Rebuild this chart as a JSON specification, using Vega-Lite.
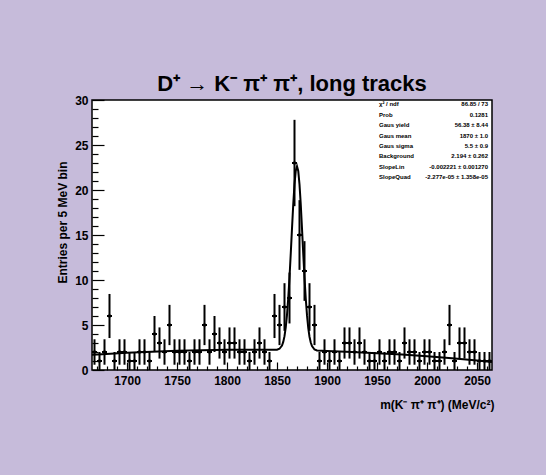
{
  "$schema": "https://vega.github.io/schema/vega-lite/v6.json",
  "width": 400,
  "height": 270,
  "autosize": "none",
  "padding": {"left": 92, "top": 100, "right": 54, "bottom": 105},
  "background": "#c6bbda",
  "title": {"text": "D⁺ → K⁻ π⁺ π⁺, long tracks", "font": "Liberation Sans", "fontSize": 22, "fontWeight": "bold", "color": "black", "anchor": "middle", "offset": -2},
  "config": {
    "view": {"fill": "white", "stroke": "black", "strokeWidth": 1.5},
    "axis": {"labelFont": "Liberation Sans", "labelFontWeight": "bold", "labelFontSize": 12, "labelColor": "black", "titleFont": "Liberation Sans", "titleFontWeight": "bold", "titleFontSize": 12, "titleColor": "black", "tickColor": "#000000", "tickWidth": 1.2, "tickOpacity": 1, "domain": false, "grid": false}
  },
  "datasets": {
    "hist": [
      {"m": 1667.5, "lo": 1665, "hi": 1670, "n": 2, "e": 1.414},
      {"m": 1672.5, "lo": 1670, "hi": 1675, "n": 1, "e": 1},
      {"m": 1677.5, "lo": 1675, "hi": 1680, "n": 2, "e": 1.414},
      {"m": 1682.5, "lo": 1680, "hi": 1685, "n": 6, "e": 2.449},
      {"m": 1687.5, "lo": 1685, "hi": 1690, "n": 1, "e": 1},
      {"m": 1692.5, "lo": 1690, "hi": 1695, "n": 2, "e": 1.414},
      {"m": 1697.5, "lo": 1695, "hi": 1700, "n": 2, "e": 1.414},
      {"m": 1702.5, "lo": 1700, "hi": 1705, "n": 1, "e": 1},
      {"m": 1707.5, "lo": 1705, "hi": 1710, "n": 1, "e": 1},
      {"m": 1712.5, "lo": 1710, "hi": 1715, "n": 2, "e": 1.414},
      {"m": 1717.5, "lo": 1715, "hi": 1720, "n": 2, "e": 1.414},
      {"m": 1722.5, "lo": 1720, "hi": 1725, "n": 1, "e": 1},
      {"m": 1727.5, "lo": 1725, "hi": 1730, "n": 4, "e": 2},
      {"m": 1732.5, "lo": 1730, "hi": 1735, "n": 3, "e": 1.732},
      {"m": 1737.5, "lo": 1735, "hi": 1740, "n": 2, "e": 1.414},
      {"m": 1742.5, "lo": 1740, "hi": 1745, "n": 5, "e": 2.236},
      {"m": 1747.5, "lo": 1745, "hi": 1750, "n": 2, "e": 1.414},
      {"m": 1752.5, "lo": 1750, "hi": 1755, "n": 2, "e": 1.414},
      {"m": 1757.5, "lo": 1755, "hi": 1760, "n": 2, "e": 1.414},
      {"m": 1762.5, "lo": 1760, "hi": 1765, "n": 1, "e": 1},
      {"m": 1767.5, "lo": 1765, "hi": 1770, "n": 2, "e": 1.414},
      {"m": 1772.5, "lo": 1770, "hi": 1775, "n": 2, "e": 1.414},
      {"m": 1777.5, "lo": 1775, "hi": 1780, "n": 5, "e": 2.236},
      {"m": 1782.5, "lo": 1780, "hi": 1785, "n": 2, "e": 1.414},
      {"m": 1787.5, "lo": 1785, "hi": 1790, "n": 4, "e": 2},
      {"m": 1792.5, "lo": 1790, "hi": 1795, "n": 3, "e": 1.732},
      {"m": 1797.5, "lo": 1795, "hi": 1800, "n": 2, "e": 1.414},
      {"m": 1802.5, "lo": 1800, "hi": 1805, "n": 3, "e": 1.732},
      {"m": 1807.5, "lo": 1805, "hi": 1810, "n": 3, "e": 1.732},
      {"m": 1812.5, "lo": 1810, "hi": 1815, "n": 2, "e": 1.414},
      {"m": 1817.5, "lo": 1815, "hi": 1820, "n": 2, "e": 1.414},
      {"m": 1822.5, "lo": 1820, "hi": 1825, "n": 1, "e": 1},
      {"m": 1827.5, "lo": 1825, "hi": 1830, "n": 2, "e": 1.414},
      {"m": 1832.5, "lo": 1830, "hi": 1835, "n": 3, "e": 1.732},
      {"m": 1837.5, "lo": 1835, "hi": 1840, "n": 2, "e": 1.414},
      {"m": 1842.5, "lo": 1840, "hi": 1845, "n": 1, "e": 1},
      {"m": 1847.5, "lo": 1845, "hi": 1850, "n": 6, "e": 2.449},
      {"m": 1852.5, "lo": 1850, "hi": 1855, "n": 5, "e": 2.236},
      {"m": 1857.5, "lo": 1855, "hi": 1860, "n": 7, "e": 2.646},
      {"m": 1862.5, "lo": 1860, "hi": 1865, "n": 8, "e": 2.828},
      {"m": 1867.5, "lo": 1865, "hi": 1870, "n": 23, "e": 4.796},
      {"m": 1872.5, "lo": 1870, "hi": 1875, "n": 15, "e": 3.873},
      {"m": 1877.5, "lo": 1875, "hi": 1880, "n": 11, "e": 3.317},
      {"m": 1882.5, "lo": 1880, "hi": 1885, "n": 7, "e": 2.646},
      {"m": 1887.5, "lo": 1885, "hi": 1890, "n": 5, "e": 2.236},
      {"m": 1892.5, "lo": 1890, "hi": 1895, "n": 1, "e": 1},
      {"m": 1897.5, "lo": 1895, "hi": 1900, "n": 2, "e": 1.414},
      {"m": 1902.5, "lo": 1900, "hi": 1905, "n": 1, "e": 1},
      {"m": 1907.5, "lo": 1905, "hi": 1910, "n": 2, "e": 1.414},
      {"m": 1912.5, "lo": 1910, "hi": 1915, "n": 1, "e": 1},
      {"m": 1917.5, "lo": 1915, "hi": 1920, "n": 3, "e": 1.732},
      {"m": 1922.5, "lo": 1920, "hi": 1925, "n": 3, "e": 1.732},
      {"m": 1927.5, "lo": 1925, "hi": 1930, "n": 2, "e": 1.414},
      {"m": 1932.5, "lo": 1930, "hi": 1935, "n": 3, "e": 1.732},
      {"m": 1937.5, "lo": 1935, "hi": 1940, "n": 2, "e": 1.414},
      {"m": 1942.5, "lo": 1940, "hi": 1945, "n": 1, "e": 1},
      {"m": 1947.5, "lo": 1945, "hi": 1950, "n": 1, "e": 1},
      {"m": 1952.5, "lo": 1950, "hi": 1955, "n": 2, "e": 1.414},
      {"m": 1957.5, "lo": 1955, "hi": 1960, "n": 1, "e": 1},
      {"m": 1962.5, "lo": 1960, "hi": 1965, "n": 2, "e": 1.414},
      {"m": 1967.5, "lo": 1965, "hi": 1970, "n": 2, "e": 1.414},
      {"m": 1972.5, "lo": 1970, "hi": 1975, "n": 1, "e": 1},
      {"m": 1977.5, "lo": 1975, "hi": 1980, "n": 3, "e": 1.732},
      {"m": 1982.5, "lo": 1980, "hi": 1985, "n": 2, "e": 1.414},
      {"m": 1987.5, "lo": 1985, "hi": 1990, "n": 2, "e": 1.414},
      {"m": 1992.5, "lo": 1990, "hi": 1995, "n": 1, "e": 1},
      {"m": 1997.5, "lo": 1995, "hi": 2000, "n": 2, "e": 1.414},
      {"m": 2002.5, "lo": 2000, "hi": 2005, "n": 2, "e": 1.414},
      {"m": 2007.5, "lo": 2005, "hi": 2010, "n": 1, "e": 1},
      {"m": 2012.5, "lo": 2010, "hi": 2015, "n": 1, "e": 1},
      {"m": 2017.5, "lo": 2015, "hi": 2020, "n": 2, "e": 1.414},
      {"m": 2022.5, "lo": 2020, "hi": 2025, "n": 5, "e": 2.236},
      {"m": 2027.5, "lo": 2025, "hi": 2030, "n": 1, "e": 1},
      {"m": 2032.5, "lo": 2030, "hi": 2035, "n": 3, "e": 1.732},
      {"m": 2037.5, "lo": 2035, "hi": 2040, "n": 3, "e": 1.732},
      {"m": 2042.5, "lo": 2040, "hi": 2045, "n": 2, "e": 1.414},
      {"m": 2047.5, "lo": 2045, "hi": 2050, "n": 2, "e": 1.414},
      {"m": 2052.5, "lo": 2050, "hi": 2055, "n": 1, "e": 1},
      {"m": 2057.5, "lo": 2055, "hi": 2060, "n": 1, "e": 1},
      {"m": 2062.5, "lo": 2060, "hi": 2065, "n": 1, "e": 1}
    ],
    "fit": [
      {"x": 1665, "f": 1.69}, {"x": 1675, "f": 1.76}, {"x": 1700, "f": 1.91}, {"x": 1725, "f": 2.04},
      {"x": 1750, "f": 2.13}, {"x": 1775, "f": 2.2}, {"x": 1800, "f": 2.24}, {"x": 1825, "f": 2.25},
      {"x": 1840, "f": 2.24}, {"x": 1850, "f": 2.26}, {"x": 1852.5, "f": 2.36}, {"x": 1855, "f": 2.72},
      {"x": 1856.25, "f": 3.12}, {"x": 1857.5, "f": 3.76}, {"x": 1858.75, "f": 4.74}, {"x": 1860, "f": 6.13},
      {"x": 1861.25, "f": 7.98}, {"x": 1862.5, "f": 10.28}, {"x": 1863.75, "f": 12.93}, {"x": 1865, "f": 15.74},
      {"x": 1866.25, "f": 18.41}, {"x": 1867.5, "f": 20.64}, {"x": 1868.75, "f": 22.13}, {"x": 1870, "f": 22.64},
      {"x": 1871.25, "f": 22.12}, {"x": 1872.5, "f": 20.63}, {"x": 1873.75, "f": 18.4}, {"x": 1875, "f": 15.71},
      {"x": 1876.25, "f": 12.9}, {"x": 1877.5, "f": 10.25}, {"x": 1878.75, "f": 7.94}, {"x": 1880, "f": 6.09},
      {"x": 1881.25, "f": 4.69}, {"x": 1882.5, "f": 3.7}, {"x": 1883.75, "f": 3.06}, {"x": 1885, "f": 2.66},
      {"x": 1887.5, "f": 2.28}, {"x": 1890, "f": 2.17}, {"x": 1900, "f": 2.11}, {"x": 1925, "f": 2.0},
      {"x": 1950, "f": 1.87}, {"x": 1975, "f": 1.71}, {"x": 2000, "f": 1.52}, {"x": 2025, "f": 1.3},
      {"x": 2050, "f": 1.06}, {"x": 2065, "f": 0.9}
    ],
    "stats": [
      {"labels": ["χ² / ndf", "Prob", "Gaus yield", "Gaus mean", "Gaus sigma", "Background", "SlopeLin", "SlopeQuad"],
       "values": ["86.85 / 73", "0.1281", "56.38 ± 8.44", "1870 ± 1.0", "5.5 ± 0.9", "2.194 ± 0.262", "-0.002221 ± 0.001270", "-2.277e-05 ± 1.358e-05"]}
    ]
  },
  "layer": [
    {
      "data": {"name": "fit"},
      "mark": {"type": "line", "color": "black", "strokeWidth": 2},
      "encoding": {
        "x": {"field": "x", "type": "quantitative", "scale": {"domain": [1665, 2065], "nice": false, "zero": false},
              "axis": {"orient": "bottom", "values": [1700,1750,1800,1850,1900,1950,2000,2050], "format": "d", "tickSize": -8, "labelPadding": 13, "title": "m(K⁻ π⁺ π⁺)  (MeV/c²)", "titleX": 402, "titleY": 34, "titleAlign": "right", "titleBaseline": "middle", "titleAnchor": "end"}},
        "y": {"field": "f", "type": "quantitative", "scale": {"domain": [0, 30], "nice": false, "zero": false},
              "axis": {"orient": "left", "values": [0,5,10,15,20,25,30], "format": "d", "tickSize": -12, "labelPadding": 16, "title": "Entries per 5 MeV bin", "titleX": -30, "titleY": 122, "titleAngle": -90, "titleAlign": "center", "titleBaseline": "middle"}}
      }
    },
    {
      "data": {"name": "hist"},
      "mark": {"type": "rule", "color": "black", "strokeWidth": 2},
      "encoding": {
        "x": {"field": "lo", "type": "quantitative",
              "axis": {"orient": "bottom", "values": [1670,1680,1690,1710,1720,1730,1740,1760,1770,1780,1790,1810,1820,1830,1840,1860,1870,1880,1890,1910,1920,1930,1940,1960,1970,1980,1990,2010,2020,2030,2040,2060], "tickSize": -4, "labels": false, "title": null}},
        "x2": {"field": "hi"},
        "y": {"field": "n", "type": "quantitative",
              "axis": {"orient": "left", "values": [1,2,3,4,6,7,8,9,11,12,13,14,16,17,18,19,21,22,23,24,26,27,28,29], "tickSize": -6, "labels": false, "title": null}}
      }
    },
    {
      "data": {"name": "hist"},
      "mark": {"type": "errorbar", "color": "black", "thickness": 2},
      "encoding": {
        "x": {"field": "m", "type": "quantitative", "axis": null},
        "y": {"field": "n", "type": "quantitative", "axis": null},
        "yError": {"field": "e"}
      }
    },
    {
      "data": {"name": "hist"},
      "mark": {"type": "point", "filled": true, "color": "black", "size": 12, "opacity": 1},
      "encoding": {
        "x": {"field": "m", "type": "quantitative", "axis": null},
        "y": {"field": "n", "type": "quantitative", "axis": null}
      }
    },
    {
      "data": {"name": "stats"},
      "mark": {"type": "text", "align": "left", "baseline": "top", "font": "Liberation Sans", "fontSize": 6, "fontWeight": "bold", "color": "black", "lineHeight": 10.4},
      "encoding": {"x": {"datum": 1952, "type": "quantitative", "axis": null}, "y": {"datum": 29.85, "type": "quantitative", "axis": null}, "text": {"field": "labels"}}
    },
    {
      "data": {"name": "stats"},
      "mark": {"type": "text", "align": "right", "baseline": "top", "font": "Liberation Sans", "fontSize": 6, "fontWeight": "bold", "color": "black", "lineHeight": 10.4},
      "encoding": {"x": {"datum": 2061, "type": "quantitative", "axis": null}, "y": {"datum": 29.85, "type": "quantitative", "axis": null}, "text": {"field": "values"}}
    }
  ],
  "resolve": {"axis": {"x": "independent", "y": "independent"}}
}
